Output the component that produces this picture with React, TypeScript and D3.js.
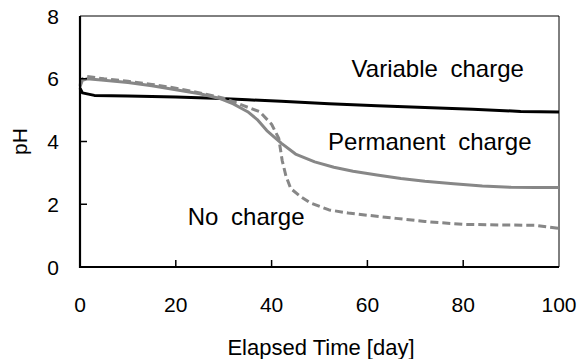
import { useEffect } from 'react';
import * as d3 from 'd3';

// Variable charge (black)
const varDays = [0, 0.5, 3, 10, 20, 28, 35, 42, 52, 62, 72, 82, 92, 100];
const varPH = [5.7, 5.55, 5.47, 5.45, 5.42, 5.38, 5.33, 5.28, 5.2, 5.14, 5.08, 5.03, 4.96, 4.94];

// Permanent charge (gray solid)
const permDays = [0, 0.5, 1.5, 5, 10, 15, 20, 25, 29, 32, 35, 37, 39, 42, 45, 49, 53, 57, 62, 67, 72, 78, 84, 90, 95, 100];
const permPH = [5.75, 5.95, 6.0, 5.95, 5.88, 5.78, 5.65, 5.52, 5.38, 5.2, 4.95, 4.7, 4.35, 3.95, 3.6, 3.35, 3.18, 3.05, 2.93, 2.82, 2.73, 2.65, 2.58, 2.54, 2.53, 2.53];

// No charge (gray dashed)
const noDays = [0, 0.5, 1.5, 5, 10, 15, 20, 25, 30, 34, 37.5, 40, 41.5, 42.2, 43, 44, 46, 48, 52, 56, 60, 66, 72, 80, 88, 95, 100];
const noPH = [5.8, 6.0, 6.07, 6.0, 5.92, 5.82, 5.7, 5.55, 5.38, 5.15, 4.95, 4.55, 4.1, 3.4, 2.9, 2.5, 2.25, 2.05, 1.82, 1.72, 1.65, 1.55, 1.45, 1.36, 1.34, 1.33, 1.23];

const xTicks = [0, 20, 40, 60, 80, 100];
const yTicks = [0, 2, 4, 6, 8];

const labels = [
  { text: 'Variable charge', day: 56.7, ph: 6.05 },
  { text: 'Permanent charge', day: 51.8, ph: 3.73 },
  { text: 'No charge', day: 22.5, ph: 1.34 },
];

const W = 583;
const H = 359;
const font = '"Liberation Sans", Arial, sans-serif';

export default function App() {
  useEffect(() => {
    document.body.style.margin = '0';
  }, []);

  const x = d3.scaleLinear().domain([0, 100]).range([80, 559]);
  const y = d3.scaleLinear().domain([0, 8]).range([267, 16]);

  const mk = (days: number[], vals: number[]) =>
    d3.line<number>().x((_, i) => x(days[i])).y(d => y(d))(vals) || '';

  return (
    <svg width={W} height={H} style={{ display: 'block', background: '#fff' }} fontFamily={font}>
      {/* frame */}
      <line x1={x(0)} x2={x(100)} y1={y(8)} y2={y(8)} stroke="#000" strokeWidth={1} />
      <line x1={x(100)} x2={x(100)} y1={y(8)} y2={y(0)} stroke="#000" strokeWidth={1} />

      {/* lines */}
      <path d={mk(varDays, varPH)} fill="none" stroke="#000" strokeWidth={3} strokeLinejoin="round" />
      <path d={mk(permDays, permPH)} fill="none" stroke="#878787" strokeWidth={3} strokeLinejoin="round" />
      <path d={mk(noDays, noPH)} fill="none" stroke="#878787" strokeWidth={3} strokeDasharray="8,4" strokeLinejoin="round" />

      {/* axes */}
      <line x1={x(0)} x2={x(0)} y1={y(8)} y2={y(0) + 1} stroke="#000" strokeWidth={2.2} />
      <line x1={x(0) - 1} x2={x(100)} y1={y(0)} y2={y(0)} stroke="#000" strokeWidth={2.2} />
      {yTicks.filter(t => t > 0 && t < 8).map(t => (
        <line key={'yt' + t} x1={x(0)} x2={x(0) + 7} y1={y(t)} y2={y(t)} stroke="#000" strokeWidth={1.5} />
      ))}
      {xTicks.filter(t => t > 0 && t < 100).map(t => (
        <line key={'xt' + t} x1={x(t)} x2={x(t)} y1={y(0)} y2={y(0) - 7} stroke="#000" strokeWidth={1.5} />
      ))}

      {yTicks.map(t => (
        <text key={'yl' + t} x={59} y={y(t)} dy="0.36em" textAnchor="end" fontSize={21}>{t}</text>
      ))}
      {xTicks.map(t => (
        <text key={'xl' + t} x={x(t)} y={312} textAnchor="middle" fontSize={21}>{t}</text>
      ))}

      <text x={321} y={355} textAnchor="middle" fontSize={22}>Elapsed Time [day]</text>
      <text transform={`translate(27,${y(4)}) rotate(-90)`} textAnchor="middle" fontSize={21}>pH</text>

      {labels.map(l => (
        <text key={l.text} x={x(l.day)} y={y(l.ph)} fontSize={24} wordSpacing={6}>{l.text}</text>
      ))}
    </svg>
  );
}
